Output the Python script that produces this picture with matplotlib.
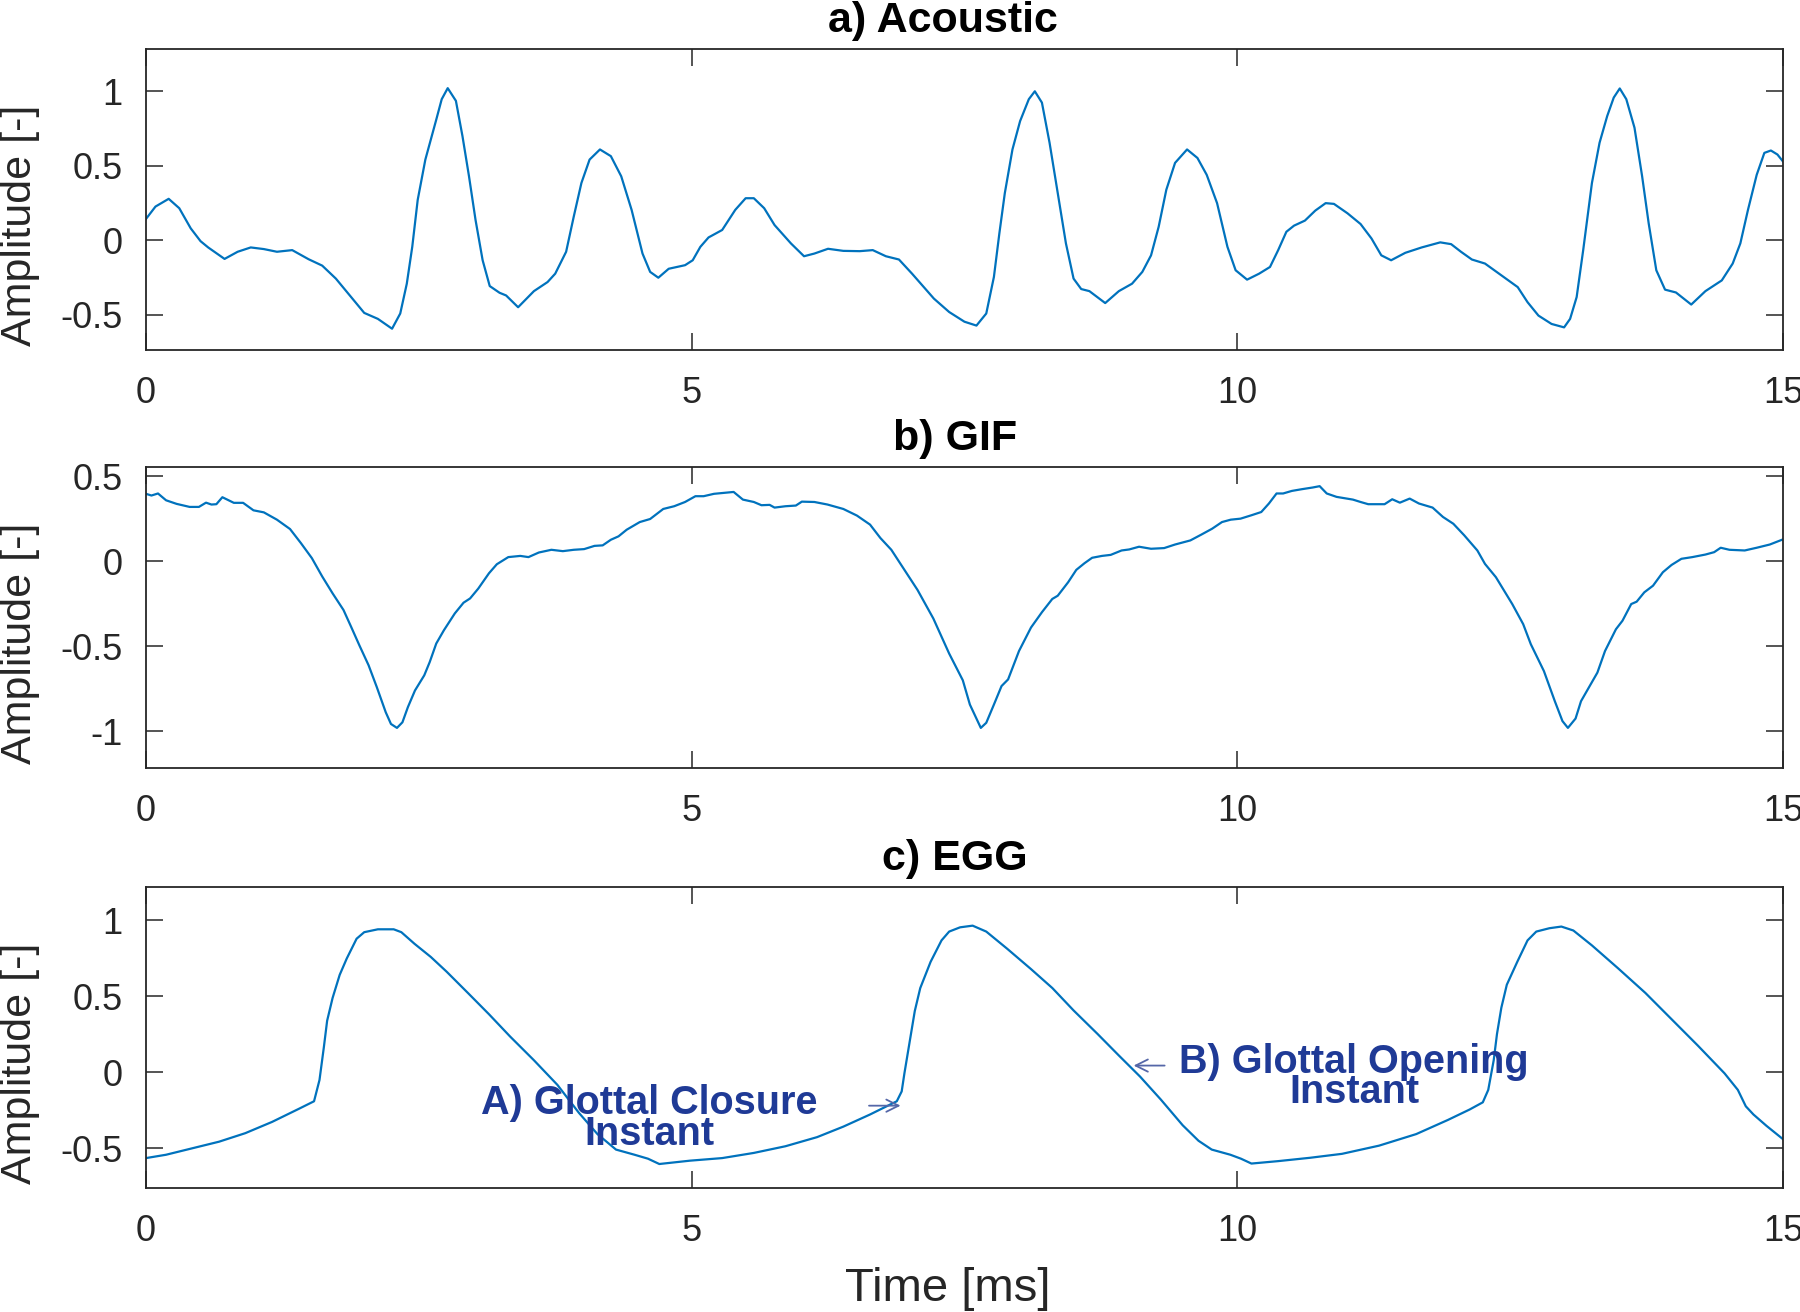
import matplotlib
matplotlib.use("Agg")
import matplotlib.pyplot as plt
import numpy as np

plt.rcParams['font.family'] = ['Liberation Sans', 'DejaVu Sans']
plt.rcParams['axes.unicode_minus'] = False

# a) acoustic signal, time [ms] / amplitude
ac_t = [0, 0.087, 0.208, 0.305, 0.41, 0.50, 0.57, 0.72, 0.84, 0.96, 1.08, 1.20, 1.34, 1.49,
        1.615, 1.74, 1.88, 2.00, 2.125, 2.255, 2.33, 2.39, 2.44, 2.49, 2.56, 2.66, 2.71, 2.765,
        2.84, 2.90, 2.96, 3.02, 3.085, 3.15, 3.24, 3.30, 3.41, 3.555, 3.68, 3.75, 3.85, 3.92,
        3.99, 4.065, 4.16, 4.26, 4.355, 4.45, 4.55, 4.62, 4.695, 4.79, 4.94, 5.01, 5.08, 5.155,
        5.28, 5.40, 5.495, 5.57, 5.665, 5.76, 5.91, 6.03, 6.125, 6.25, 6.39, 6.54, 6.66, 6.78,
        6.90, 7.02, 7.22, 7.36, 7.50, 7.61, 7.70, 7.77, 7.82, 7.87, 7.94, 8.01, 8.09, 8.145,
        8.21, 8.28, 8.355, 8.43, 8.50, 8.57, 8.645, 8.79, 8.915, 9.036, 9.13, 9.21, 9.28, 9.35,
        9.43, 9.54, 9.635, 9.72, 9.815, 9.91, 9.985, 10.09, 10.2, 10.30, 10.375, 10.45, 10.52,
        10.62, 10.715, 10.81, 10.886, 11.01, 11.13, 11.23, 11.32, 11.41, 11.54, 11.69, 11.86,
        11.96, 12.05, 12.15, 12.27, 12.42, 12.57, 12.66, 12.76, 12.88, 12.995, 13.05, 13.11,
        13.17, 13.25, 13.32, 13.39, 13.45, 13.505, 13.565, 13.64, 13.71, 13.77, 13.84, 13.92,
        14.02, 14.16, 14.29, 14.44, 14.54, 14.61, 14.68, 14.76, 14.83, 14.89, 14.95, 15.0]
ac_v = [0.144, 0.227, 0.279, 0.216, 0.081, -0.005, -0.047, -0.124, -0.076, -0.047, -0.058,
        -0.076, -0.065, -0.126, -0.169, -0.256, -0.38, -0.486, -0.526, -0.592, -0.49, -0.29,
        -0.043, 0.272, 0.542, 0.81, 0.947, 1.021, 0.936, 0.70, 0.43, 0.137, -0.133, -0.306,
        -0.351, -0.369, -0.448, -0.34, -0.279, -0.223, -0.076, 0.16, 0.385, 0.542, 0.61, 0.565,
        0.43, 0.205, -0.088, -0.211, -0.25, -0.19, -0.166, -0.133, -0.043, 0.02, 0.07, 0.205,
        0.283, 0.283, 0.216, 0.103, -0.02, -0.106, -0.088, -0.056, -0.07, -0.072, -0.065,
        -0.106, -0.128, -0.223, -0.39, -0.48, -0.545, -0.571, -0.49, -0.245, 0.047, 0.317,
        0.61, 0.80, 0.947, 1.0, 0.924, 0.655, 0.317, -0.02, -0.256, -0.326, -0.34, -0.42,
        -0.34, -0.29, -0.211, -0.1, 0.092, 0.34, 0.52, 0.61, 0.553, 0.44, 0.25, -0.043, -0.2,
        -0.263, -0.223, -0.178, -0.065, 0.058, 0.099, 0.133, 0.2, 0.25, 0.245, 0.182, 0.11,
        0.013, -0.1, -0.133, -0.083, -0.047, -0.013, -0.025, -0.076, -0.128, -0.155, -0.234,
        -0.313, -0.414, -0.504, -0.56, -0.583, -0.526, -0.38, -0.065, 0.385, 0.655, 0.834,
        0.958, 1.019, 0.947, 0.756, 0.43, 0.115, -0.2, -0.33, -0.349, -0.43, -0.34, -0.268,
        -0.155, -0.02, 0.205, 0.44, 0.587, 0.603, 0.576, 0.53]

# b) glottal inverse filtered flow
gif_t = [0, 0.05, 0.11, 0.184, 0.28, 0.40, 0.485, 0.55, 0.60, 0.645, 0.70, 0.805, 0.89, 0.985,
         1.08, 1.20, 1.32, 1.42, 1.52, 1.615, 1.71, 1.81, 1.88, 1.955, 2.04, 2.115, 2.197,
         2.245, 2.30, 2.35, 2.40, 2.465, 2.55, 2.60, 2.66, 2.73, 2.83, 2.91, 2.97, 3.045, 3.143,
         3.215, 3.32, 3.43, 3.505, 3.60, 3.715, 3.82, 3.92, 4.015, 4.11, 4.185, 4.26, 4.33,
         4.405, 4.525, 4.62, 4.74, 4.84, 4.94, 5.035, 5.11, 5.205, 5.30, 5.385, 5.47, 5.57,
         5.64, 5.715, 5.76, 5.86, 5.955, 6.01, 6.125, 6.245, 6.39, 6.515, 6.635, 6.73, 6.83,
         6.93, 7.07, 7.215, 7.36, 7.485, 7.55, 7.65, 7.70, 7.77, 7.84, 7.90, 8.0, 8.11, 8.21,
         8.305, 8.355, 8.45, 8.525, 8.60, 8.67, 8.76, 8.84, 8.94, 9.01, 9.10, 9.21, 9.33, 9.43,
         9.57, 9.67, 9.77, 9.86, 9.94, 10.03, 10.13, 10.22, 10.29, 10.36, 10.42, 10.50, 10.59,
         10.69, 10.755, 10.82, 10.91, 11.06, 11.13, 11.20, 11.35, 11.42, 11.49, 11.58, 11.665,
         11.79, 11.885, 11.98, 12.08, 12.20, 12.27, 12.37, 12.52, 12.62, 12.69, 12.81, 12.91,
         12.98, 13.03, 13.10, 13.15, 13.22, 13.30, 13.37, 13.47, 13.53, 13.61, 13.66, 13.73,
         13.81, 13.90, 13.98, 14.07, 14.17, 14.29, 14.37, 14.43, 14.51, 14.65, 14.76, 14.88, 15.0]
gif_v = [0.396, 0.386, 0.398, 0.358, 0.337, 0.319, 0.319, 0.344, 0.333, 0.335, 0.376, 0.343,
         0.343, 0.299, 0.287, 0.244, 0.189, 0.106, 0.018, -0.09, -0.189, -0.287, -0.386, -0.494,
         -0.612, -0.74, -0.888, -0.957, -0.98, -0.947, -0.858, -0.76, -0.671, -0.593, -0.484,
         -0.406, -0.307, -0.244, -0.219, -0.161, -0.071, -0.018, 0.024, 0.031, 0.024, 0.051,
         0.067, 0.059, 0.067, 0.071, 0.09, 0.093, 0.126, 0.146, 0.185, 0.23, 0.248, 0.307, 0.323,
         0.348, 0.382, 0.382, 0.396, 0.402, 0.407, 0.362, 0.348, 0.329, 0.331, 0.315, 0.323,
         0.327, 0.35, 0.348, 0.333, 0.307, 0.268, 0.215, 0.136, 0.067, -0.031, -0.169, -0.337,
         -0.543, -0.70, -0.843, -0.98, -0.95, -0.843, -0.734, -0.695, -0.528, -0.39, -0.30,
         -0.222, -0.203, -0.124, -0.051, -0.012, 0.02, 0.031, 0.037, 0.063, 0.069, 0.085, 0.073,
         0.077, 0.098, 0.122, 0.156, 0.191, 0.23, 0.244, 0.25, 0.27, 0.289, 0.339, 0.398, 0.398,
         0.413, 0.423, 0.433, 0.441, 0.398, 0.378, 0.362, 0.348, 0.335, 0.335, 0.364, 0.344,
         0.368, 0.339, 0.315, 0.26, 0.22, 0.152, 0.063, -0.016, -0.094, -0.252, -0.37, -0.488,
         -0.646, -0.823, -0.94, -0.98, -0.925, -0.823, -0.744, -0.655, -0.528, -0.40, -0.35,
         -0.252, -0.238, -0.183, -0.144, -0.065, -0.022, 0.014, 0.024, 0.039, 0.053, 0.079,
         0.067, 0.063, 0.079, 0.098, 0.128]

# c) electroglottograph
egg_t = [0, 0.184, 0.427, 0.67, 0.91, 1.155, 1.40, 1.54, 1.59, 1.63, 1.66, 1.71, 1.775, 1.84,
         1.93, 2.00, 2.125, 2.27, 2.34, 2.46, 2.61, 2.755, 2.95, 3.143, 3.337, 3.555, 3.77,
         3.967, 4.137, 4.307, 4.477, 4.60, 4.704, 4.985, 5.28, 5.57, 5.86, 6.15, 6.39, 6.635,
         6.88, 6.925, 6.95, 7.0, 7.045, 7.095, 7.19, 7.29, 7.36, 7.46, 7.575, 7.70, 7.89, 8.11,
         8.306, 8.50, 8.72, 8.914, 9.11, 9.30, 9.50, 9.645, 9.766, 9.937, 10.034, 10.13, 10.375,
         10.667, 10.96, 11.30, 11.64, 11.93, 12.13, 12.25, 12.30, 12.35, 12.38, 12.42, 12.47,
         12.566, 12.66, 12.74, 12.86, 12.97, 13.08, 13.25, 13.49, 13.74, 13.98, 14.22, 14.465,
         14.587, 14.66, 14.73, 14.85, 15.0]
egg_v = [-0.564, -0.542, -0.499, -0.456, -0.40, -0.326, -0.24, -0.19, -0.05, 0.166, 0.34,
         0.49, 0.642, 0.75, 0.88, 0.923, 0.942, 0.942, 0.923, 0.847, 0.76, 0.663, 0.523, 0.383,
         0.236, 0.08, -0.082, -0.266, -0.406, -0.508, -0.542, -0.568, -0.603, -0.581, -0.564,
         -0.53, -0.486, -0.426, -0.357, -0.277, -0.19, -0.125, -0.006, 0.21, 0.404, 0.555, 0.728,
         0.869, 0.927, 0.955, 0.966, 0.927, 0.815, 0.68, 0.555, 0.408, 0.253, 0.112, -0.028,
         -0.179, -0.348, -0.45, -0.508, -0.542, -0.568, -0.60, -0.584, -0.562, -0.536, -0.482,
         -0.406, -0.313, -0.244, -0.197, -0.115, 0.08, 0.253, 0.426, 0.577, 0.728, 0.869, 0.927,
         0.949, 0.96, 0.934, 0.836, 0.685, 0.523, 0.35, 0.177, -0.006, -0.115, -0.223, -0.277,
         -0.352, -0.439]

titles = ['a) Acoustic', 'b) GIF', 'c) EGG']
ylims = [(-0.735, 1.284), (-1.216, 0.554), (-0.761, 1.221)]
yticks = [[-0.5, 0, 0.5, 1], [-1, -0.5, 0, 0.5], [-0.5, 0, 0.5, 1]]
ytick_labels = [['-0.5', '0', '0.5', '1'], ['-1', '-0.5', '0', '0.5'], ['-0.5', '0', '0.5', '1']]
xticks = [0, 5, 10, 15]

line_col = '#0072BD'
ink = '#262626'
note_col = '#1f3a96'
arrow_col = '#5567a8'

fig = plt.figure(figsize=(18, 13.12), dpi=100)
bottoms = [0.7332, 0.4146, 0.0945]
title_x = [0.487, 0.494, 0.494]
axes = []
for i, b in enumerate(bottoms):
    ax = fig.add_axes([0.0811, b, 0.9094, 0.2295])
    axes.append(ax)

series = [(ac_t, ac_v), (gif_t, gif_v), (egg_t, egg_v)]
for i, ax in enumerate(axes):
    t, v = series[i]
    ax.plot(t, v, color=line_col, lw=1.6, solid_joinstyle='round')
    ax.set_xlim(0, 15)
    ax.set_ylim(*ylims[i])
    ax.set_xticks(xticks)
    ax.set_xticklabels([str(x) for x in xticks])
    ax.set_yticks(yticks[i])
    ax.set_yticklabels(ytick_labels[i])
    ax.tick_params(direction='in', length=12, width=1.1, top=True, right=True,
                   labelsize=26, colors=ink)
    ax.tick_params(axis='x', pad=19)
    ax.tick_params(axis='y', pad=17)
    for s in ax.spines.values():
        s.set_color(ink)
        s.set_linewidth(1.3)
    ax.set_ylabel('Amplitude [-]', fontsize=31, color=ink, va='center')
    ax.yaxis.set_label_coords(-0.077, 0.415)
    ax.text(title_x[i], 1.092, titles[i], transform=ax.transAxes, ha='center', va='center',
            fontsize=31, fontweight='bold', color='black')

axes[2].set_xlabel('Time [ms]', fontsize=34, color=ink, va='center')
axes[2].xaxis.set_label_coords(0.49, -0.337)

# annotations on the EGG panel
ax = axes[2]
ax.annotate('', xy=(6.94, -0.219), xytext=(6.6, -0.219),
            arrowprops=dict(arrowstyle='->', color=arrow_col, lw=1.3, mutation_scale=22))
ax.text(4.61, -0.203, 'A) Glottal Closure', ha='center', va='center', fontsize=28.5,
        fontweight='bold', color=note_col)
ax.text(4.61, -0.407, 'Instant', ha='center', va='center', fontsize=28.5,
        fontweight='bold', color=note_col)
ax.annotate('', xy=(9.025, 0.045), xytext=(9.36, 0.045),
            arrowprops=dict(arrowstyle='->', color=arrow_col, lw=1.3, mutation_scale=22))
ax.text(11.07, 0.068, 'B) Glottal Opening', ha='center', va='center', fontsize=28.5,
        fontweight='bold', color=note_col)
ax.text(11.07, -0.128, 'Instant', ha='center', va='center', fontsize=28.5,
        fontweight='bold', color=note_col)

fig.savefig('out.png', dpi=100)
